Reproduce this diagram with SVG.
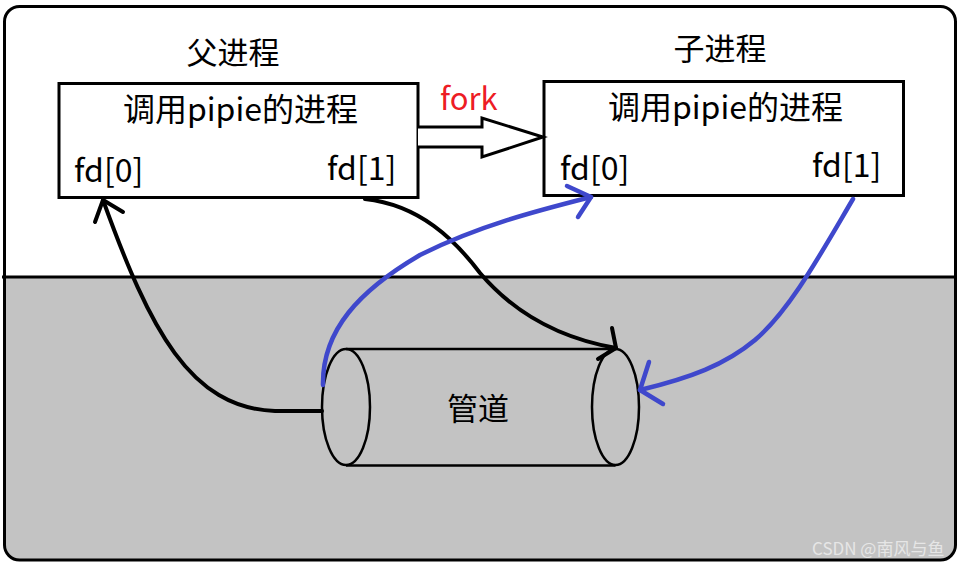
<svg xmlns="http://www.w3.org/2000/svg" width="962" height="568" viewBox="0 0 962 568">
<style>
  .t{font-family:"Noto Sans CJK SC","Noto Sans",sans-serif;fill:#000}
  .box{fill:#fff;stroke:#000;stroke-width:3}
  .cyl{fill:none;stroke:#000;stroke-width:2.5}
  .k{fill:none;stroke:#000;stroke-width:4;stroke-linecap:round;stroke-linejoin:round}
  .b{fill:none;stroke:#3f48cc;stroke-width:4.5;stroke-linecap:round;stroke-linejoin:round}
</style>
<rect x="0" y="0" width="962" height="568" fill="#fff"/>
<g id="frame">
  <path d="M4.5,277 L4.5,545 Q4.5,560 19.5,560 L940.5,560 Q955.5,560 955.5,545 L955.5,277 Z" fill="#c3c3c3"/>
  <rect x="4.5" y="6.5" width="951" height="553.5" rx="15" ry="15" fill="none" stroke="#000" stroke-width="3"/>
  <line x1="2" y1="277" x2="955.5" y2="277" stroke="#000" stroke-width="3"/>
</g>
<g id="parent-process">
  <text class="t" x="233" y="64" font-size="31" text-anchor="middle">父进程</text>
  <rect class="box" x="59" y="83.5" width="359" height="114"/>
  <text class="t" x="240.5" y="121" font-size="32" text-anchor="middle">调用pipie的进程</text>
  <text class="t" x="74" y="182" font-size="32">fd[0]</text>
  <text class="t" x="327" y="180" font-size="32">fd[1]</text>
</g>
<g id="child-process">
  <text class="t" x="720" y="60" font-size="31" text-anchor="middle">子进程</text>
  <rect class="box" x="544" y="81.5" width="359.5" height="114"/>
  <text class="t" x="725.5" y="119" font-size="32" text-anchor="middle">调用pipie的进程</text>
  <text class="t" x="560" y="180" font-size="32">fd[0]</text>
  <text class="t" x="812" y="177" font-size="32">fd[1]</text>
</g>
<g id="pipe">
  <line class="cyl" x1="346" y1="349" x2="615.5" y2="349"/>
  <line class="cyl" x1="346" y1="465.5" x2="615.5" y2="465.5"/>
  <ellipse class="cyl" cx="346" cy="407" rx="24" ry="58"/>
  <ellipse class="cyl" cx="615.5" cy="407" rx="23.5" ry="58"/>
  <text class="t" x="478" y="420" font-size="31" text-anchor="middle">管道</text>
</g>
<g id="connectors">
  <g id="fork">
    <path d="M418,127 L482,127 L482,118 L543,137 L482,157 L482,147 L418,147" fill="#fff" stroke="#000" stroke-width="3" stroke-linejoin="miter"/>
    <text class="t" x="440" y="110" font-size="31" style="fill:#ed1c24">fork</text>
  </g>
  <path class="k" d="M322,411 L275,411 C190,408 150,330 103,200"/>
  <polyline class="k" points="95,222 103,200 123,212"/>
  <path class="k" d="M365,199 C420,205 455,240 480,273 C520,320 570,340 616,348"/>
  <polyline class="k" points="612,328 616,348 598,359"/>
  <path class="b" d="M323,385 C322,330 360,290 420,255 C480,225 540,210 591,197"/>
  <polyline class="b" points="567,186 591,197 578,217"/>
  <path class="b" d="M853,199 C820,255 790,310 755,340 C725,365 690,378 640,390"/>
  <polyline class="b" points="649,362 640,390 663,404"/>
</g>
<text x="812" y="555" font-family="'Noto Sans CJK SC','Noto Sans',sans-serif" font-size="17" fill="#e6e6e6">CSDN @南风与鱼</text>
</svg>
